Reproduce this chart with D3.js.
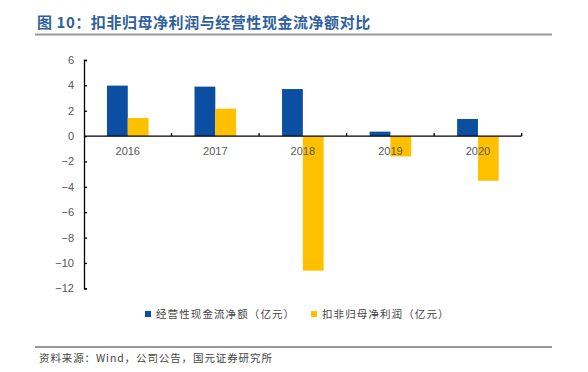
<!DOCTYPE html>
<html>
<head>
<meta charset="utf-8">
<script src="https://cdn.jsdelivr.net/npm/d3@7"></script>
<style>
  body { margin: 0; background: #fff; }
  svg { display: block; }
</style>
</head>
<body>
<svg id="chart" width="588" height="372"></svg>
<script>
// chart data
var years = ["2016", "2017", "2018", "2019", "2020"];
var cashFlow = [3.98, 3.9, 3.71, 0.35, 1.35];      // 经营性现金流净额
var netProfit = [1.43, 2.16, -10.61, -1.6, -3.52]; // 扣非归母净利润
var seriesNames = ["经营性现金流净额（亿元）", "扣非归母净利润（亿元）"];
var yTicks = [6, 4, 2, 0, -2, -4, -6, -8, -10, -12];

var blue = "#0B4EA2", gold = "#FFC000";
var cjk = "'Noto Sans CJK SC', sans-serif";
var latin = "'Liberation Sans', Arial, sans-serif";

var svg = d3.select("#chart");

// title + rule
svg.append("text")
  .attr("x", 37).attr("y", 28)
  .attr("font-family", cjk)
  .attr("font-size", 15)
  .attr("font-weight", "bold")
  .attr("letter-spacing", 0.55)
  .attr("fill", "#2F5F9E")
  .text("图 10：扣非归母净利润与经营性现金流净额对比");

svg.append("line")
  .attr("x1", 35).attr("x2", 552)
  .attr("y1", 34.5).attr("y2", 34.5)
  .attr("stroke", "#9a9a9a").attr("stroke-width", 2);

var left = 84, right = 521.7;
var y = d3.scaleLinear().domain([-12, 6]).range([288.3, 60]);
var x = d3.scaleBand().domain(years).range([left, right]);
var inner = d3.scaleBand().domain([0, 1]).range([0, 41.6]);
var off = (x.bandwidth() - 41.6) / 2;

var series = [cashFlow, netProfit];
var colors = [blue, gold];

series.forEach(function(vals, s) {
  svg.append("g").selectAll("rect")
    .data(vals)
    .enter()
    .append("rect")
    .attr("x", function(d, i) { return x(years[i]) + off + inner(s); })
    .attr("width", inner.bandwidth())
    .attr("y", function(d) { return y(Math.max(0, d)); })
    .attr("height", function(d) { return Math.abs(y(d) - y(0)); })
    .attr("fill", colors[s]);
});

// y axis
var yAxis = svg.append("g")
  .attr("transform", "translate(" + left + ",0)")
  .call(d3.axisLeft(y).tickValues(yTicks).tickSize(-3).tickPadding(10));
yAxis.select(".domain").attr("stroke", "#000").attr("stroke-width", 1.3);
yAxis.selectAll(".tick line").attr("stroke", "#000").attr("stroke-width", 1.3);
yAxis.selectAll("text")
  .attr("font-family", latin).attr("font-size", 11).attr("fill", "#595959");

// zero line with category boundary ticks
svg.append("line")
  .attr("x1", left).attr("x2", right)
  .attr("y1", y(0)).attr("y2", y(0))
  .attr("stroke", "#000").attr("stroke-width", 1.3);

var bounds = years.map(function(d) { return x(d) + x.bandwidth(); });
svg.append("g").selectAll("line")
  .data(bounds)
  .enter()
  .append("line")
  .attr("x1", function(d) { return d; }).attr("x2", function(d) { return d; })
  .attr("y1", y(0)).attr("y2", y(0) - 3)
  .attr("stroke", "#000").attr("stroke-width", 1.3);

svg.append("g").selectAll("text")
  .data(years)
  .enter()
  .append("text")
  .attr("x", function(d) { return x(d) + x.bandwidth() / 2; })
  .attr("y", y(0) + 19)
  .attr("text-anchor", "middle")
  .attr("font-family", latin).attr("font-size", 11).attr("fill", "#595959")
  .text(function(d) { return d; });

// legend
var legendX = [145, 311];
seriesNames.forEach(function(name, i) {
  var g = svg.append("g").attr("transform", "translate(" + legendX[i] + ",318)");
  g.append("rect").attr("x", 0).attr("y", -7).attr("width", 6).attr("height", 6)
    .attr("fill", colors[i]);
  g.append("text").attr("x", 11).attr("y", 0)
    .attr("font-family", cjk).attr("font-size", 10.5).attr("letter-spacing", 1.1)
    .attr("fill", "#444")
    .text(name);
});

// source
svg.append("line")
  .attr("x1", 35).attr("x2", 552)
  .attr("y1", 347).attr("y2", 347)
  .attr("stroke", "#333").attr("stroke-width", 1);

svg.append("text")
  .attr("x", 39).attr("y", 362)
  .attr("font-family", cjk).attr("font-size", 10.5).attr("letter-spacing", 0.9)
  .attr("fill", "#444")
  .text("资料来源：Wind，公司公告，国元证券研究所");
</script>
</body>
</html>
